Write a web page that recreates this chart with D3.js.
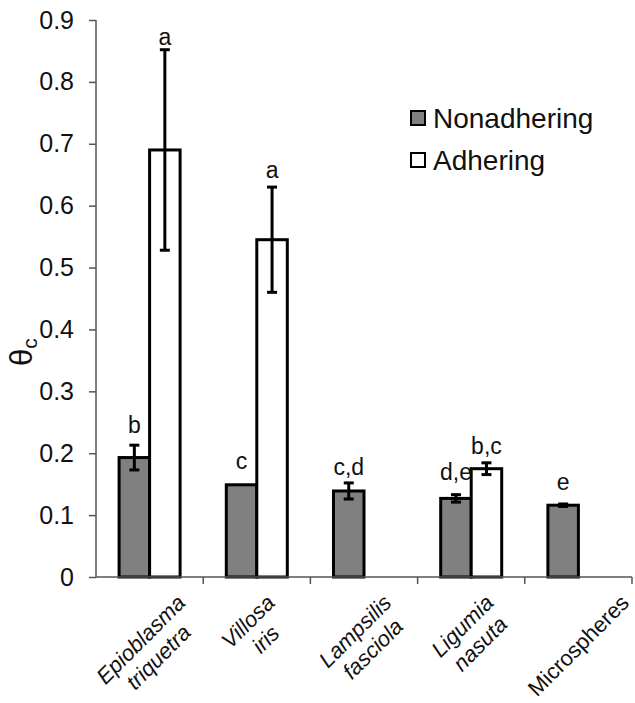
<!DOCTYPE html>
<html>
<head>
<meta charset="utf-8">
<script src="https://cdn.jsdelivr.net/npm/d3@7"></script>
<style>
  body { margin: 0; background: #fff; }
  svg  { display: block; font-family: "Liberation Sans", Arial, sans-serif; }
</style>
</head>
<body>
<script>
var categories  = ["Epioblasma triquetra", "Villosa iris", "Lampsilis fasciola", "Ligumia nasuta", "Microspheres"];
var labelLines  = [["Epioblasma", "triquetra"], ["Villosa", "iris"], ["Lampsilis", "fasciola"], ["Ligumia", "nasuta"], ["Microspheres"]];
var italicLabel = [true, true, true, true, false];

var series = ["Nonadhering", "Adhering"];

var nonadhering    = [0.193, 0.149, 0.139, 0.127, 0.116];
var nonadheringErr = [0.020, 0,     0.013, 0.006, 0.002];
var adhering       = [0.690, 0.545, null,  0.175, null];
var adheringErr    = [0.162, 0.085, null,  0.0095, null];

// significance letters and the theta value their baseline sits at
var nonadheringSig   = ["b", "c", "c,d", "d,e", "e"];
var nonadheringSigAt = [0.233, 0.175, 0.165, 0.157, 0.141];
var adheringSig      = ["a", "a", null, "b,c", null];
var adheringSigAt    = [0.860, 0.645, null, 0.199, null];

var yTicks = [0, 0.1, 0.2, 0.3, 0.4, 0.5, 0.6, 0.7, 0.8, 0.9];

var W = 635, H = 703;
var svg = d3.select("body").append("svg").attr("width", W).attr("height", H);

var x0 = d3.scaleBand().domain(categories).range([96, 632]).padding(0);
var bw = x0.bandwidth();
var x1 = d3.scaleBand().domain(series).range([bw / 2 - 30.5, bw / 2 + 30.5]);
var y  = d3.scaleLinear().domain([0, 0.9]).range([577, 20]);

var fills = { Nonadhering: "#808080", Adhering: "#ffffff" };

// rows: one per bar
var rows = [];
categories.forEach((c, i) => {
    rows.push({ cat: c, s: "Nonadhering", v: nonadhering[i], e: nonadheringErr[i], sig: nonadheringSig[i], sigAt: nonadheringSigAt[i] });
    if (adhering[i] !== null) {
        rows.push({ cat: c, s: "Adhering", v: adhering[i], e: adheringErr[i], sig: adheringSig[i], sigAt: adheringSigAt[i] });
    }
});
var cx = (d) => x0(d.cat) + x1(d.s) + x1.bandwidth() / 2;

// bars
svg.append("g")
   .selectAll("rect")
   .data(rows)
   .enter().append("rect")
   .attr("x", (d) => x0(d.cat) + x1(d.s))
   .attr("y", (d) => y(d.v))
   .attr("width", x1.bandwidth())
   .attr("height", (d) => y(0) - y(d.v))
   .attr("fill", (d) => fills[d.s])
   .attr("stroke", "#000")
   .attr("stroke-width", 3);

// error bars
var eb = svg.append("g")
   .selectAll("g")
   .data(rows.filter((d) => d.e > 0))
   .enter().append("g")
   .attr("stroke", "#000")
   .attr("stroke-width", 3);
eb.append("line")
  .attr("x1", cx).attr("x2", cx)
  .attr("y1", (d) => y(d.v + d.e)).attr("y2", (d) => y(d.v - d.e));
eb.append("line")
  .attr("x1", (d) => cx(d) - 5).attr("x2", (d) => cx(d) + 5)
  .attr("y1", (d) => y(d.v + d.e)).attr("y2", (d) => y(d.v + d.e));
eb.append("line")
  .attr("x1", (d) => cx(d) - 5).attr("x2", (d) => cx(d) + 5)
  .attr("y1", (d) => y(d.v - d.e)).attr("y2", (d) => y(d.v - d.e));

// significance letters
svg.append("g")
   .selectAll("text")
   .data(rows.filter((d) => d.sig))
   .enter().append("text")
   .attr("x", cx)
   .attr("y", (d) => y(d.sigAt))
   .attr("text-anchor", "middle")
   .attr("font-size", 23)
   .attr("fill", "#111")
   .text((d) => d.sig);

// y axis
var yAxis = svg.append("g")
   .attr("transform", "translate(96,0)")
   .call(d3.axisLeft(y).tickValues(yTicks).tickFormat((d) => d === 0 ? "0" : d3.format(".1f")(d)).tickSize(7).tickPadding(15));
yAxis.select(".domain").attr("stroke", "#555").attr("stroke-width", 1.5).attr("d", "M0," + y(0.9) + "V" + y(0));
yAxis.selectAll(".tick line").attr("stroke", "#555").attr("stroke-width", 1.5);
yAxis.selectAll(".tick text").attr("font-size", 25).attr("fill", "#111").attr("font-family", "Liberation Sans, Arial, sans-serif");

// x axis: ticks at category boundaries
var xAxis = svg.append("g");
xAxis.append("line")
     .attr("x1", 96).attr("x2", 632).attr("y1", y(0)).attr("y2", y(0))
     .attr("stroke", "#555").attr("stroke-width", 1.5);
xAxis.selectAll("line.tk")
     .data(categories)
     .enter().append("line")
     .attr("class", "tk")
     .attr("x1", (d) => x0(d) + bw).attr("x2", (d) => x0(d) + bw)
     .attr("y1", y(0)).attr("y2", y(0) + 7)
     .attr("stroke", "#555").attr("stroke-width", 1.5);

// rotated category labels, bbox centred under each category
categories.forEach((c, i) => {
    var outer = xAxis.append("g");
    var inner = outer.append("g").attr("transform", "rotate(-45)");
    labelLines[i].forEach((t, j) => {
        inner.append("text")
             .attr("x", 0)
             .attr("y", j * 25)
             .attr("text-anchor", "middle")
             .attr("font-size", 22)
             .attr("font-style", italicLabel[i] ? "italic" : "normal")
             .attr("fill", "#111")
             .text(t);
    });
    var bb = outer.node().getBBox();
    var tx = x0(c) + bw / 2 - (bb.x + bb.width / 2);
    var ty = 590 - bb.y;
    outer.attr("transform", "translate(" + tx + "," + ty + ")");
});

// y title
var yt = svg.append("text")
   .attr("transform", "translate(32,352) rotate(-90)")
   .attr("text-anchor", "middle")
   .attr("font-size", 31)
   .attr("fill", "#111");
yt.append("tspan").text("\u03b8");
yt.append("tspan").attr("font-size", 21).attr("dy", 5).text("c");

// legend
var legend = svg.append("g")
   .selectAll("g")
   .data(series)
   .enter().append("g")
   .attr("transform", (d, i) => "translate(411," + (111 + i * 42) + ")");
legend.append("rect")
      .attr("width", 14).attr("height", 14)
      .attr("fill", (d) => fills[d])
      .attr("stroke", "#000").attr("stroke-width", 2);
legend.append("text")
      .attr("x", 22).attr("y", 17)
      .attr("font-size", 28)
      .attr("fill", "#111")
      .text((d) => d);
</script>
</body>
</html>
